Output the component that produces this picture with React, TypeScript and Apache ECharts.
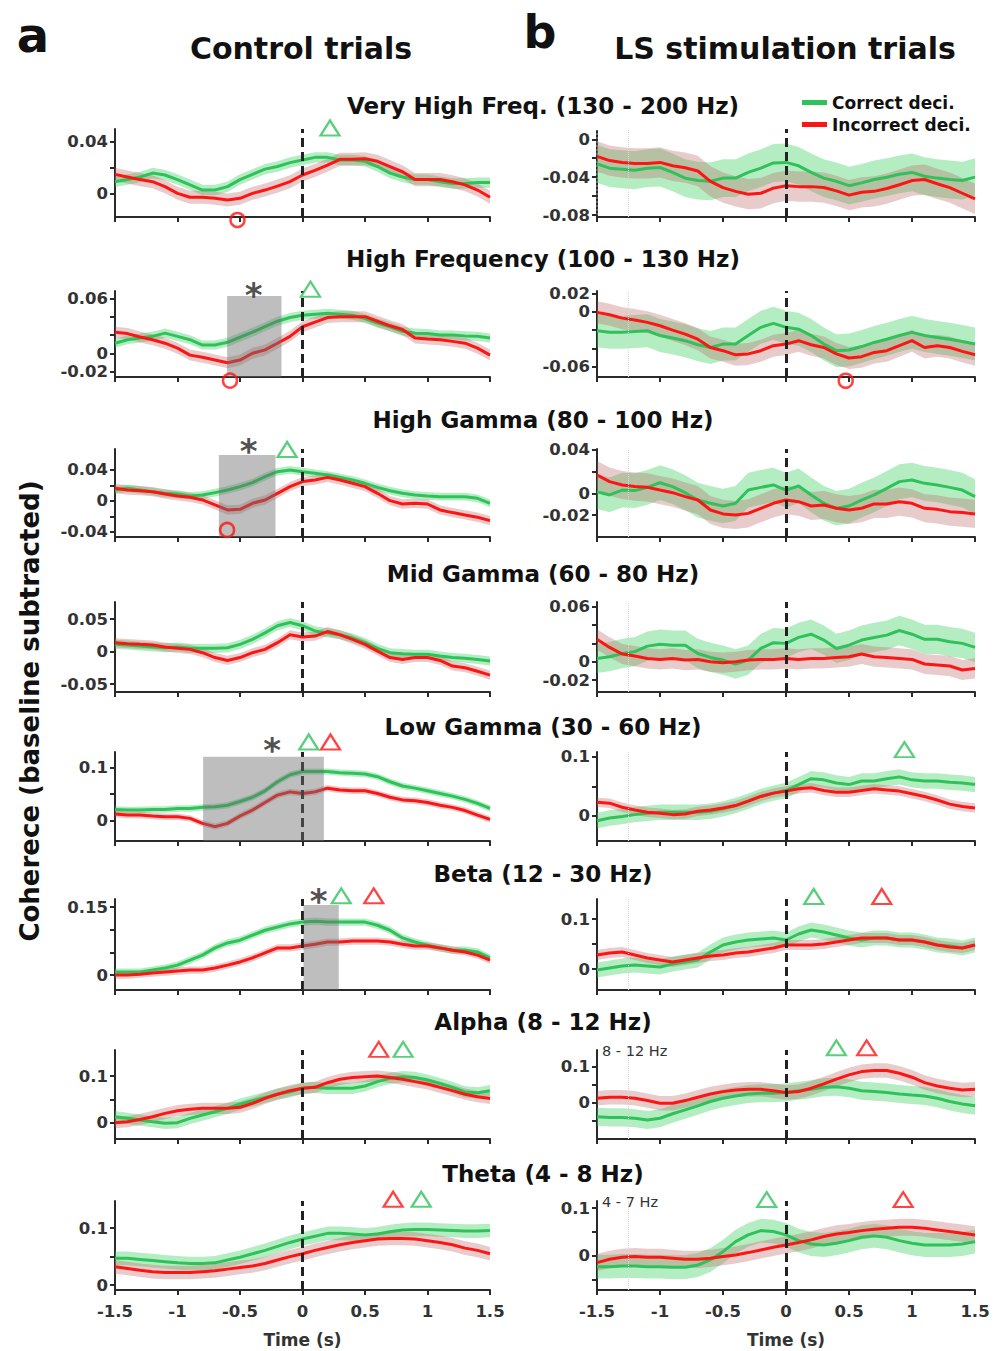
import React, { useEffect, useRef } from "react";
import * as echarts from "echarts";

// ---------- DATA ----------
const TIME = [-1.5, -1.4, -1.3, -1.2, -1.1, -1.0, -0.9, -0.8, -0.7, -0.6, -0.5, -0.4, -0.3, -0.2, -0.1, 0, 0.1, 0.2, 0.3, 0.4, 0.5, 0.6, 0.7, 0.8, 0.9, 1.0, 1.1, 1.2, 1.3, 1.4, 1.5];

const BAND_TITLES = [
  "Very High Freq. (130 - 200 Hz)",
  "High Frequency (100 - 130 Hz)",
  "High Gamma (80 - 100 Hz)",
  "Mid Gamma (60 - 80 Hz)",
  "Low Gamma (30 - 60 Hz)",
  "Beta (12 - 30 Hz)",
  "Alpha (8 - 12 Hz)",
  "Theta (4 - 8 Hz)",
];
const COLUMN_TITLES = ["Control trials", "LS stimulation trials"];
const PANEL_LETTERS = ["a", "b"];
const Y_TITLE = "Coherece (baseline subtracted)";
const X_TITLE = "Time (s)";
const SERIES_NAMES = ["Correct deci.", "Incorrect deci."];
const SUB_BANDS = [{ row: 6, text: "8 - 12 Hz" }, { row: 7, text: "4 - 7 Hz" }];

// Control trials (left column)
const VHF_CTRL_C = [0.0094, 0.011, 0.013, 0.016, 0.0145, 0.011, 0.007, 0.003, 0.003, 0.0056, 0.011, 0.015, 0.019, 0.021, 0.024, 0.026, 0.028, 0.028, 0.026, 0.026, 0.025, 0.021, 0.016, 0.013, 0.011, 0.011, 0.0094, 0.008, 0.008, 0.0087, 0.0087];
const VHF_CTRL_I = [0.015, 0.013, 0.011, 0.0094, 0.0056, 0.0005, -0.0025, -0.0025, -0.0033, -0.0046, -0.0033, 0.0005, 0.003, 0.006, 0.0094, 0.0145, 0.018, 0.022, 0.0265, 0.0265, 0.027, 0.025, 0.021, 0.017, 0.011, 0.011, 0.011, 0.0094, 0.007, 0.003, -0.0025];
const HF_CTRL_C = [0.011, 0.0148, 0.0167, 0.0185, 0.022, 0.0185, 0.0148, 0.009, 0.009, 0.012, 0.0175, 0.023, 0.029, 0.035, 0.039, 0.0415, 0.0426, 0.0437, 0.0426, 0.0415, 0.038, 0.033, 0.029, 0.024, 0.022, 0.0215, 0.02, 0.02, 0.019, 0.0185, 0.0167];
const HF_CTRL_I = [0.023, 0.0215, 0.0178, 0.0148, 0.011, 0.0056, -0.002, -0.0044, -0.0074, -0.0104, -0.0074, 0, 0.0037, 0.011, 0.0185, 0.029, 0.034, 0.039, 0.04, 0.04, 0.04, 0.035, 0.03, 0.026, 0.0167, 0.0155, 0.0148, 0.013, 0.011, 0.0056, -0.002];
const HG_CTRL_C = [0.0142, 0.0163, 0.0142, 0.012, 0.0099, 0.009, 0.0065, 0.0077, 0.0108, 0.0142, 0.0185, 0.0237, 0.0314, 0.0378, 0.04, 0.0378, 0.0357, 0.0335, 0.0305, 0.027, 0.0228, 0.0176, 0.0133, 0.0099, 0.0077, 0.0065, 0.0056, 0.0056, 0.0056, 0.0034, -0.003];
const HG_CTRL_I = [0.0163, 0.0142, 0.0133, 0.012, 0.009, 0.0065, 0.0047, 0.0013, -0.005, -0.0116, -0.0108, -0.003, 0.0013, 0.0099, 0.0185, 0.025, 0.027, 0.0305, 0.027, 0.0228, 0.0185, 0.0099, 0.0004, -0.0039, -0.003, -0.0039, -0.0116, -0.015, -0.018, -0.021, -0.0254];
const MG_CTRL_C = [0.0113, 0.0103, 0.0088, 0.0072, 0.0062, 0.0072, 0.0052, 0.0052, 0.0052, 0.0062, 0.0113, 0.019, 0.029, 0.04, 0.045, 0.04, 0.032, 0.029, 0.026, 0.021, 0.014, 0.0052, -0.0015, -0.003, -0.004, -0.004, -0.0067, -0.009, -0.01, -0.012, -0.0144];
const MG_CTRL_I = [0.0139, 0.0124, 0.0113, 0.0103, 0.0072, 0.0052, 0.0036, -0.0015, -0.009, -0.0134, -0.009, -0.0015, 0.0036, 0.0139, 0.026, 0.0227, 0.024, 0.031, 0.026, 0.019, 0.0113, 0.001, -0.009, -0.012, -0.009, -0.009, -0.0134, -0.022, -0.0247, -0.03, -0.036];
const LG_CTRL_C = [0.021, 0.02, 0.02, 0.021, 0.021, 0.023, 0.023, 0.025, 0.026, 0.029, 0.036, 0.044, 0.056, 0.073, 0.086, 0.092, 0.092, 0.092, 0.09, 0.089, 0.0875, 0.0825, 0.073, 0.065, 0.061, 0.056, 0.051, 0.046, 0.04, 0.0325, 0.023];
const LG_CTRL_I = [0.0125, 0.0106, 0.0106, 0.0088, 0.0075, 0.0075, 0.0044, -0.005, -0.011, -0.005, 0.0088, 0.02, 0.034, 0.048, 0.054, 0.051, 0.054, 0.061, 0.0575, 0.056, 0.056, 0.051, 0.044, 0.039, 0.0375, 0.034, 0.029, 0.025, 0.019, 0.0106, 0.0025];
const BETA_CTRL_C = [0.0066, 0.0066, 0.0066, 0.011, 0.0155, 0.022, 0.033, 0.044, 0.06, 0.071, 0.077, 0.088, 0.099, 0.106, 0.113, 0.117, 0.119, 0.117, 0.117, 0.117, 0.117, 0.11, 0.099, 0.082, 0.073, 0.066, 0.06, 0.055, 0.055, 0.051, 0.038];
const BETA_CTRL_I = [0, 0, 0.002, 0.0044, 0.0066, 0.0088, 0.011, 0.011, 0.0155, 0.022, 0.029, 0.038, 0.049, 0.06, 0.06, 0.064, 0.068, 0.073, 0.073, 0.075, 0.075, 0.075, 0.073, 0.068, 0.064, 0.064, 0.06, 0.055, 0.051, 0.044, 0.033];
const ALPHA_CTRL_C = [0.0129, 0.0093, 0.0057, 0.002, -0.0014, 0, 0.0093, 0.0164, 0.0236, 0.0307, 0.04, 0.047, 0.054, 0.061, 0.066, 0.0736, 0.0757, 0.0736, 0.0736, 0.0736, 0.0786, 0.088, 0.095, 0.0986, 0.097, 0.0914, 0.084, 0.0757, 0.066, 0.064, 0.0686];
const ALPHA_CTRL_I = [0, 0.002, 0.007, 0.0129, 0.02, 0.0257, 0.0286, 0.0307, 0.0307, 0.0307, 0.033, 0.0414, 0.052, 0.061, 0.0686, 0.0736, 0.0757, 0.0857, 0.093, 0.097, 0.0986, 0.1, 0.097, 0.093, 0.088, 0.083, 0.0757, 0.0686, 0.061, 0.0557, 0.052];
const THETA_CTRL_C = [0.047, 0.047, 0.045, 0.043, 0.041, 0.039, 0.038, 0.038, 0.039, 0.044, 0.049, 0.055, 0.061, 0.068, 0.075, 0.081, 0.086, 0.091, 0.091, 0.09, 0.088, 0.09, 0.094, 0.097, 0.098, 0.098, 0.097, 0.096, 0.095, 0.095, 0.096];
const THETA_CTRL_I = [0.032, 0.029, 0.026, 0.0235, 0.022, 0.022, 0.022, 0.0235, 0.025, 0.028, 0.031, 0.0335, 0.038, 0.044, 0.05, 0.055, 0.061, 0.066, 0.071, 0.075, 0.078, 0.081, 0.082, 0.082, 0.081, 0.078, 0.075, 0.071, 0.065, 0.061, 0.055];

// LS stimulation trials (right column)
const VHF_LS_C = [-0.026, -0.0305, -0.0316, -0.0327, -0.0305, -0.0298, -0.035, -0.041, -0.0436, -0.0444, -0.041, -0.041, -0.035, -0.0305, -0.025, -0.0244, -0.028, -0.035, -0.041, -0.0444, -0.049, -0.046, -0.0425, -0.04, -0.037, -0.035, -0.039, -0.041, -0.0425, -0.0436, -0.04];
const VHF_LS_I = [-0.018, -0.0225, -0.0244, -0.0255, -0.0255, -0.0244, -0.028, -0.03, -0.0335, -0.0444, -0.051, -0.055, -0.058, -0.057, -0.0516, -0.049, -0.05, -0.05, -0.051, -0.0545, -0.059, -0.056, -0.055, -0.052, -0.048, -0.0436, -0.0425, -0.047, -0.051, -0.057, -0.063];
const HF_LS_C = [-0.0207, -0.0225, -0.0225, -0.0215, -0.0207, -0.026, -0.0287, -0.0316, -0.036, -0.039, -0.0353, -0.0353, -0.026, -0.017, -0.0127, -0.017, -0.019, -0.026, -0.0353, -0.0425, -0.0418, -0.038, -0.0335, -0.03, -0.026, -0.0225, -0.026, -0.028, -0.03, -0.0324, -0.0353];
const HF_LS_I = [-0.0007, -0.0033, -0.007, -0.009, -0.0116, -0.0153, -0.02, -0.0244, -0.03, -0.039, -0.0425, -0.047, -0.046, -0.0425, -0.037, -0.0353, -0.0316, -0.036, -0.039, -0.046, -0.0505, -0.049, -0.0444, -0.0425, -0.037, -0.0316, -0.039, -0.037, -0.039, -0.0433, -0.047];
const HG_LS_C = [0.0015, -0.0015, 0.003, 0.0025, 0.0055, 0.0098, 0.0062, 0.0006, -0.0062, -0.0092, -0.0117, -0.0092, 0.003, 0.0055, 0.0077, 0.003, 0.0068, -0.0015, -0.0092, -0.0138, -0.0117, -0.0062, -0.0015, 0.0046, 0.0108, 0.0123, 0.0092, 0.0077, 0.0055, 0.003, -0.003];
const HG_LS_I = [0.0169, 0.0108, 0.0077, 0.0062, 0.0055, 0.003, 0.0006, -0.003, -0.0062, -0.0154, -0.019, -0.02, -0.0185, -0.0138, -0.0092, -0.0062, -0.0077, -0.0117, -0.0108, -0.0138, -0.0154, -0.0138, -0.0098, -0.0098, -0.0077, -0.0092, -0.0138, -0.0148, -0.0169, -0.0178, -0.019];
const MG_LS_C = [0.0036, 0.0055, 0.009, 0.011, 0.017, 0.019, 0.018, 0.018, 0.009, 0.0047, 0.0018, -0.0025, 0.0018, 0.0145, 0.0207, 0.02, 0.0265, 0.03, 0.0236, 0.0145, 0.018, 0.0236, 0.0265, 0.029, 0.034, 0.03, 0.0244, 0.0244, 0.0218, 0.02, 0.0156];
const MG_LS_I = [0.0244, 0.0156, 0.0084, 0.0062, 0.0036, 0.0025, 0.0036, 0.0018, 0.0025, 0, -0.001, 0, 0.0018, 0.0025, 0.0025, 0.0036, 0.0025, 0.0036, 0.0036, 0.0047, 0.0055, 0.0084, 0.0055, 0.0047, 0.0036, 0.0025, -0.0025, -0.0036, -0.0047, -0.009, -0.0073];
const LG_LS_C = [-0.008, -0.0034, -0.001, 0.0023, 0.0045, 0.0063, 0.0063, 0.0063, 0.0063, 0.008, 0.012, 0.0176, 0.025, 0.033, 0.0386, 0.043, 0.053, 0.063, 0.061, 0.0557, 0.053, 0.059, 0.059, 0.063, 0.066, 0.061, 0.059, 0.059, 0.057, 0.0557, 0.053];
const LG_LS_I = [0.023, 0.0216, 0.0148, 0.01, 0.0063, 0.0045, 0.0023, 0.0034, 0.008, 0.01, 0.0136, 0.0176, 0.025, 0.033, 0.0386, 0.042, 0.046, 0.0477, 0.043, 0.04, 0.04, 0.043, 0.046, 0.044, 0.042, 0.0375, 0.033, 0.027, 0.02, 0.016, 0.0136];
const BETA_LS_C = [-0.002, 0.002, 0.006, 0.008, 0.006, 0.004, 0.01, 0.014, 0.018, 0.034, 0.048, 0.054, 0.058, 0.06, 0.062, 0.058, 0.07, 0.078, 0.074, 0.068, 0.062, 0.058, 0.062, 0.062, 0.058, 0.058, 0.054, 0.048, 0.046, 0.042, 0.048];
const BETA_LS_I = [0.028, 0.032, 0.034, 0.028, 0.022, 0.018, 0.014, 0.018, 0.022, 0.026, 0.028, 0.032, 0.034, 0.038, 0.042, 0.048, 0.048, 0.048, 0.05, 0.054, 0.058, 0.062, 0.062, 0.062, 0.058, 0.058, 0.054, 0.048, 0.044, 0.042, 0.048];
const ALPHA_LS_C = [-0.039, -0.041, -0.041, -0.0435, -0.048, -0.0435, -0.031, -0.02, -0.009, 0.003, 0.012, 0.0185, 0.024, 0.026, 0.026, 0.028, 0.033, 0.037, 0.0426, 0.044, 0.04, 0.033, 0.0305, 0.028, 0.024, 0.021, 0.0185, 0.012, 0.003, -0.0037, -0.009];
const ALPHA_LS_I = [0.012, 0.0148, 0.0148, 0.012, 0.0056, -0.0019, -0.0019, 0.0056, 0.0148, 0.024, 0.0305, 0.035, 0.037, 0.037, 0.033, 0.028, 0.0305, 0.04, 0.052, 0.065, 0.077, 0.086, 0.089, 0.089, 0.0815, 0.0704, 0.0556, 0.046, 0.04, 0.035, 0.037];
const THETA_LS_C = [-0.0224, -0.0224, -0.021, -0.021, -0.0224, -0.0224, -0.0238, -0.0238, -0.019, -0.0084, 0.009, 0.03, 0.044, 0.053, 0.051, 0.044, 0.032, 0.025, 0.023, 0.0266, 0.032, 0.039, 0.042, 0.039, 0.032, 0.0266, 0.023, 0.023, 0.023, 0.025, 0.03];
const THETA_LS_I = [-0.014, -0.007, -0.0028, -0.0014, -0.0028, -0.0028, -0.0049, -0.007, -0.007, -0.0049, -0.0014, 0.002, 0.007, 0.0126, 0.018, 0.023, 0.028, 0.0336, 0.0406, 0.046, 0.049, 0.053, 0.056, 0.058, 0.06, 0.06, 0.058, 0.0545, 0.051, 0.0476, 0.044];

// Half-width of the shaded error band for each panel (correct, incorrect)
const SPREAD_C = [0.004, 0.02, 0.005, 0.018, 0.005, 0.016, 0.007, 0.016, 0.006, 0.013, 0.008, 0.015, 0.012, 0.025, 0.012, 0.025];
const SPREAD_I = [0.005, 0.016, 0.006, 0.012, 0.006, 0.013, 0.007, 0.011, 0.006, 0.008, 0.008, 0.01, 0.012, 0.02, 0.012, 0.018];

// Panels in row-major order
const PANELS = [
  { row: 0, col: 0, c: VHF_CTRL_C, i: VHF_CTRL_I, yMin: -0.0176, yMax: 0.0497, labels: [0, 0.04], ticks: [0, 0.02, 0.04] },
  { row: 0, col: 1, c: VHF_LS_C, i: VHF_LS_I, yMin: -0.0821, yMax: 0.0109, labels: [-0.08, -0.04, 0], ticks: [-0.08, -0.06, -0.04, -0.02, 0], dotted: true },
  { row: 1, col: 0, c: HF_CTRL_C, i: HF_CTRL_I, yMin: -0.0259, yMax: 0.068, labels: [-0.02, 0, 0.06], ticks: [-0.02, 0, 0.02, 0.04, 0.06] },
  { row: 1, col: 1, c: HF_LS_C, i: HF_LS_I, yMin: -0.0712, yMax: 0.0226, labels: [-0.06, 0, 0.02], ticks: [-0.06, -0.04, -0.02, 0, 0.02] },
  { row: 2, col: 0, c: HG_CTRL_C, i: HG_CTRL_I, yMin: -0.0465, yMax: 0.0671, labels: [-0.04, 0, 0.04], ticks: [-0.04, -0.02, 0, 0.02, 0.04] },
  { row: 2, col: 1, c: HG_LS_C, i: HG_LS_I, yMin: -0.0403, yMax: 0.0409, labels: [-0.02, 0, 0.04], ticks: [-0.02, 0, 0.02, 0.04] },
  { row: 3, col: 0, c: MG_CTRL_C, i: MG_CTRL_I, yMin: -0.062, yMax: 0.0765, labels: [-0.05, 0, 0.05], ticks: [-0.05, 0, 0.05] },
  { row: 3, col: 1, c: MG_LS_C, i: MG_LS_I, yMin: -0.033, yMax: 0.0651, labels: [-0.02, 0, 0.06], ticks: [-0.02, 0, 0.02, 0.04, 0.06] },
  { row: 4, col: 0, c: LG_CTRL_C, i: LG_CTRL_I, yMin: -0.038, yMax: 0.1287, labels: [0, 0.1], ticks: [0, 0.05, 0.1] },
  { row: 4, col: 1, c: LG_LS_C, i: LG_LS_I, yMin: -0.0422, yMax: 0.108, labels: [0, 0.1], ticks: [0, 0.05, 0.1] },
  { row: 5, col: 0, c: BETA_CTRL_C, i: BETA_CTRL_I, yMin: -0.033, yMax: 0.168, labels: [0, 0.15], ticks: [0, 0.05, 0.1, 0.15] },
  { row: 5, col: 1, c: BETA_LS_C, i: BETA_LS_I, yMin: -0.042, yMax: 0.14, labels: [0, 0.1], ticks: [0, 0.05, 0.1] },
  { row: 6, col: 0, c: ALPHA_CTRL_C, i: ALPHA_CTRL_I, yMin: -0.0349, yMax: 0.1557, labels: [0, 0.1], ticks: [0, 0.05, 0.1] },
  { row: 6, col: 1, c: ALPHA_LS_C, i: ALPHA_LS_I, yMin: -0.101, yMax: 0.146, labels: [0, 0.1], ticks: [-0.05, 0, 0.05, 0.1] },
  { row: 7, col: 0, c: THETA_CTRL_C, i: THETA_CTRL_I, yMin: -0.0088, yMax: 0.148, labels: [0, 0.1], ticks: [0, 0.05, 0.1] },
  { row: 7, col: 1, c: THETA_LS_C, i: THETA_LS_I, yMin: -0.0713, yMax: 0.115, labels: [0, 0.1], ticks: [-0.05, 0, 0.05, 0.1] },
];

// Significance markers: panel index, time, value, kind
const MARKERS = [
  { panel: 0, t: 0.22, y: 0.0505, kind: "triC" },
  { panel: 0, t: -0.52, y: -0.0199, kind: "circ" },
  { panel: 2, t: 0.064, y: 0.07, kind: "triC" },
  { panel: 2, t: -0.58, y: -0.0299, kind: "circ" },
  { panel: 2, t: -0.39, y: 0.0735, kind: "star" },
  { panel: 3, t: 0.474, y: -0.0753, kind: "circ" },
  { panel: 4, t: -0.123, y: 0.0665, kind: "triC" },
  { panel: 4, t: -0.603, y: -0.0374, kind: "circ" },
  { panel: 4, t: -0.43, y: 0.0755, kind: "star" },
  { panel: 8, t: 0.05, y: 0.1475, kind: "triC" },
  { panel: 8, t: 0.224, y: 0.1475, kind: "triI" },
  { panel: 8, t: -0.243, y: 0.15, kind: "star" },
  { panel: 9, t: 0.94, y: 0.112, kind: "triC" },
  { panel: 10, t: 0.31, y: 0.175, kind: "triC" },
  { panel: 10, t: 0.57, y: 0.175, kind: "triI" },
  { panel: 10, t: 0.13, y: 0.183, kind: "star" },
  { panel: 11, t: 0.22, y: 0.145, kind: "triC" },
  { panel: 11, t: 0.76, y: 0.145, kind: "triI" },
  { panel: 12, t: 0.61, y: 0.157, kind: "triI" },
  { panel: 12, t: 0.805, y: 0.157, kind: "triC" },
  { panel: 13, t: 0.4, y: 0.152, kind: "triC" },
  { panel: 13, t: 0.64, y: 0.152, kind: "triI" },
  { panel: 14, t: 0.725, y: 0.151, kind: "triI" },
  { panel: 14, t: 0.95, y: 0.151, kind: "triC" },
  { panel: 15, t: -0.153, y: 0.118, kind: "triC" },
  { panel: 15, t: 0.93, y: 0.118, kind: "triI" },
];

// Significant time windows (gray shading): panel, start, end, top value
const WINDOWS = [
  { panel: 2, t0: -0.603, t1: -0.168, top: 0.0625 },
  { panel: 4, t0: -0.669, t1: -0.216, top: 0.0594 },
  { panel: 8, t0: -0.795, t1: 0.171, top: 0.12 },
  { panel: 10, t0: 0.008, t1: 0.29, top: 0.155 },
];

// ---------- LAYOUT / STYLE ----------
const FONT = '"DejaVu Sans", "Liberation Sans", Arial, sans-serif';
const ROW_TOP = [129, 291, 449, 602, 752, 899, 1050, 1201];
const ROW_BOTTOM = [217, 377, 537, 692, 841, 990, 1139, 1290];
const COL_LEFT = [115, 597];
const COL_WIDTH = [375, 378];
const TITLE_Y = [106, 259, 420, 574, 727, 874, 1022, 1174];
const GREEN = "#2fc25b";
const RED = "#ff1414";
const GREEN_BAND = "rgba(70, 210, 105, 0.4)";
const RED_BAND = "rgba(185, 95, 95, 0.32)";
const AXIS_COLOR = "#2a2a2a";

function buildOption() {
  const grid: any[] = [];
  const xAxis: any[] = [];
  const yAxis: any[] = [];
  const series: any[] = [];

  PANELS.forEach((p, idx) => {
    const top = ROW_TOP[p.row];
    const bottom = ROW_BOTTOM[p.row];
    const isBottom = p.row === 7;
    grid.push({ left: COL_LEFT[p.col], top, width: COL_WIDTH[p.col], height: bottom - top, containLabel: false });
    xAxis.push({
      type: "value",
      gridIndex: idx,
      min: -1.5,
      max: 1.5,
      interval: 0.5,
      axisLine: { show: true, onZero: false, lineStyle: { color: AXIS_COLOR, width: 2 } },
      axisTick: { show: true, length: 5, lineStyle: { color: AXIS_COLOR, width: 2 } },
      axisLabel: { show: isBottom, fontSize: 16.5, fontWeight: "bold", color: "#333", fontFamily: FONT, margin: 13 },
      splitLine: { show: false },
      name: isBottom ? X_TITLE : "",
      nameLocation: "middle",
      nameGap: 41,
      nameTextStyle: { fontSize: 17, fontWeight: "bold", color: "#333", fontFamily: FONT },
    });
    yAxis.push({
      type: "value",
      gridIndex: idx,
      min: p.yMin,
      max: p.yMax,
      axisLine: { show: true, onZero: false, lineStyle: { color: AXIS_COLOR, width: 2, type: p.dotted ? "dotted" : "solid" } },
      axisTick: { show: true, length: 5, customValues: p.ticks, lineStyle: { color: AXIS_COLOR, width: 2 } },
      axisLabel: { show: true, customValues: p.labels, fontSize: 16.5, fontWeight: "bold", color: "#333", fontFamily: FONT, margin: 7 },
      splitLine: { show: false },
    });

    // error band as one polygon, mapped through the axes with api.coord
    const band = (vals: number[], spread: number, color: string) => {
      const rows = TIME.map((t, k) => [t, vals[k] - spread, vals[k] + spread]);
      return {
        type: "custom", xAxisIndex: idx, yAxisIndex: idx, z: 1, silent: true, clip: true,
        data: rows, encode: { x: 0, y: [1, 2] },
        renderItem: (params: any, api: any) => {
          if (params.dataIndex !== 0) return null;
          const upper = rows.map((r) => api.coord([r[0], r[2]]));
          const lower = rows.map((r) => api.coord([r[0], r[1]])).reverse();
          return { type: "polygon", shape: { points: upper.concat(lower) }, style: { fill: color } };
        },
      };
    };
    series.push(band(p.c, SPREAD_C[idx], GREEN_BAND));
    series.push(band(p.i, SPREAD_I[idx], RED_BAND));

    series.push({
      type: "line", name: SERIES_NAMES[0], xAxisIndex: idx, yAxisIndex: idx,
      data: TIME.map((t, k) => [t, p.c[k]]), symbol: "none",
      lineStyle: { color: GREEN, width: 3 }, itemStyle: { color: GREEN }, silent: true, z: 3,
    });
    const markLines: any[] = [{ xAxis: 0, lineStyle: { color: "#222", width: 3, type: [9, 5] } }];
    if (p.col === 1) markLines.unshift({ xAxis: -1.25, lineStyle: { color: "#d8d8d8", width: 1, type: "dotted" } });
    series.push({
      type: "line", name: SERIES_NAMES[1], xAxisIndex: idx, yAxisIndex: idx,
      data: TIME.map((t, k) => [t, p.i[k]]), symbol: "none",
      lineStyle: { color: RED, width: 3 }, itemStyle: { color: RED }, silent: true, z: 4,
      markLine: { silent: true, symbol: ["none", "none"], label: { show: false }, data: markLines, z: 6 },
    });

    const wins = WINDOWS.filter((w) => w.panel === idx);
    if (wins.length) {
      series.push({
        type: "custom", xAxisIndex: idx, yAxisIndex: idx, z: 7, silent: true, clip: false,
        data: wins.map((w) => [w.t0, w.t1, w.top, p.yMin]),
        encode: { x: [0, 1], y: [2, 3] },
        renderItem: (_params: any, api: any) => {
          const a = api.coord([api.value(0), api.value(2)]);
          const b = api.coord([api.value(1), api.value(3)]);
          return {
            type: "rect",
            shape: { x: a[0], y: a[1], width: b[0] - a[0], height: b[1] - a[1] },
            style: { fill: "rgba(110,110,110,0.45)" },
          };
        },
      });
    }

    const marks = MARKERS.filter((m) => m.panel === idx);
    if (marks.length) {
      series.push({
        type: "scatter", xAxisIndex: idx, yAxisIndex: idx, z: 8, silent: true, clip: false,
        data: marks.map((m) => {
          if (m.kind === "star") {
            return {
              value: [m.t, m.y], symbol: "rect", symbolSize: 1,
              itemStyle: { color: "rgba(0,0,0,0)" },
              label: { show: true, position: "inside", formatter: "*", fontSize: 34, fontWeight: "bold", color: "#222", fontFamily: FONT, offset: [0, 9] },
            };
          }
          if (m.kind === "circ") {
            return {
              value: [m.t, m.y], symbol: "circle", symbolSize: 14,
              itemStyle: { color: "rgba(255,255,255,0)", borderColor: RED, borderWidth: 2.5 },
            };
          }
          return {
            value: [m.t, m.y], symbol: "triangle", symbolSize: [19, 15],
            itemStyle: { color: "rgba(255,255,255,0)", borderColor: m.kind === "triC" ? GREEN : RED, borderWidth: 2.2 },
          };
        }),
      });
    }
  });

  const graphic: any[] = [];
  const txt = (text: string, x: number, y: number, size: number, opts: any = {}) => ({
    type: "text", x, y, rotation: opts.rotation || 0, silent: true,
    style: {
      text, fill: opts.color || "#111",
      font: `${opts.weight || "bold"} ${size}px ${FONT}`,
      textAlign: opts.align || "center", textVerticalAlign: "middle",
    },
  });
  graphic.push(txt(PANEL_LETTERS[0], 33, 35, 48));
  graphic.push(txt(PANEL_LETTERS[1], 540, 32, 46));
  graphic.push(txt(COLUMN_TITLES[0], 301, 48, 30));
  graphic.push(txt(COLUMN_TITLES[1], 785, 48, 30));
  BAND_TITLES.forEach((t, r) => graphic.push(txt(t, 543, TITLE_Y[r], 23)));
  graphic.push(txt(Y_TITLE, 30, 711, 26, { rotation: Math.PI / 2 }));
  SUB_BANDS.forEach((s) => graphic.push(txt(s.text, 602, ROW_TOP[s.row] + 1, 14.5, { weight: "normal", align: "left", color: "#333" })));

  return {
    animation: false,
    backgroundColor: "#ffffff",
    textStyle: { fontFamily: FONT },
    grid, xAxis, yAxis, series, graphic,
    legend: {
      data: [{ name: SERIES_NAMES[0], icon: "rect" }, { name: SERIES_NAMES[1], icon: "rect" }],
      orient: "vertical", left: 797, top: 89, itemWidth: 25, itemHeight: 5, itemGap: 5,
      selectedMode: false,
      textStyle: { fontSize: 17, fontWeight: "bold", color: "#111", fontFamily: FONT },
    },
  };
}

export default function App() {
  const ref = useRef<HTMLDivElement>(null);
  useEffect(() => {
    if (!ref.current) return;
    const chart = echarts.init(ref.current, null, { renderer: "svg" });
    chart.setOption(buildOption() as any);
    return () => chart.dispose();
  }, []);
  return <div ref={ref} style={{ position: "absolute", left: 0, top: 0, width: 996, height: 1351 }} />;
}
